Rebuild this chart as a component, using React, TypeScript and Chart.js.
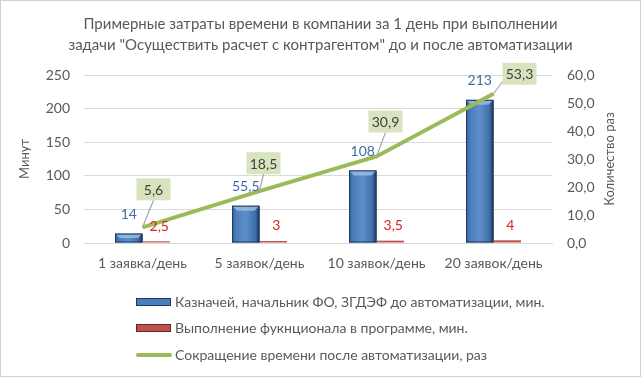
import React, { useEffect, useRef } from "react";
import Chart from "chart.js/auto";

const categories = ["1 заявка/день", "5 заявок/день", "10 заявок/день", "20 заявок/день"];
const beforeMinutes = [14, 55.5, 108, 213];
const afterMinutes = [2.5, 3, 3.5, 4];
const reductionTimes = [5.6, 18.5, 30.9, 53.3];
const beforeLabels = ["14", "55,5", "108", "213"];
const afterLabels = ["2,5", "3", "3,5", "4"];
const reductionLabels = ["5,6", "18,5", "30,9", "53,3"];
const leftTicksMax = 250;
const rightTicksMax = 60;
const titleLines = [
  "Примерные затраты времени в компании за 1 день при выполнении",
  "задачи \"Осуществить расчет с контрагентом\" до и после автоматизации",
];
const seriesNames = [
  "Казначей, начальник ФО, ЗГДЭФ до автоматизации, мин.",
  "Выполнение фукнционала в программе, мин.",
  "Сокращение времени после автоматизации, раз",
];
const leftAxisTitle = "Минут";
const rightAxisTitle = "Количество раз";

// label callout offsets (style)
const calloutOffsets = [
  [11, -38],
  [4, -28],
  [9, -35],
  [26, -20],
];

const FONT = "Lato, 'Open Sans', sans-serif";
const TEXT = "#595959";
const BLUE = "#4A7EBB";
const RED = "#C0504D";
const GREEN = "#9BBB59";

const bevelPlugin = {
  id: "bevelBars",
  afterDatasetDraw(chart: any, args: any) {
    if (args.index !== 0) return;
    const ctx = chart.ctx;
    ctx.save();
    args.meta.data.forEach((b: any) => {
      const l = b.x - b.width / 2;
      const r = b.x + b.width / 2;
      const t = b.y;
      const bot = b.base;
      const g = ctx.createLinearGradient(l, 0, r, 0);
      g.addColorStop(0, "#345F93");
      g.addColorStop(0.15, "#4A7EBB");
      g.addColorStop(0.5, "#5D8FCB");
      g.addColorStop(0.85, "#3F6FA8");
      g.addColorStop(1, "#1B3454");
      ctx.fillStyle = g;
      ctx.fillRect(l, t, r - l, bot - t);
      // top bevel
      const bev = Math.min(5, (bot - t) / 2);
      ctx.fillStyle = "rgba(160,195,235,0.75)";
      ctx.beginPath();
      ctx.moveTo(l, t);
      ctx.lineTo(r, t);
      ctx.lineTo(r - bev, t + bev);
      ctx.lineTo(l + bev, t + bev);
      ctx.closePath();
      ctx.fill();
      ctx.strokeStyle = "#1F3A60";
      ctx.lineWidth = 1;
      ctx.strokeRect(l + 0.5, t + 0.5, r - l - 1, bot - t - 1);
    });
    ctx.restore();
  },
};

const labelsPlugin = {
  id: "customLabels",
  afterDatasetsDraw(chart: any) {
    const ctx = chart.ctx;
    ctx.save();
    ctx.textAlign = "center";
    ctx.textBaseline = "middle";
    ctx.font = `14px ${FONT}`;
    const m0 = chart.getDatasetMeta(0);
    const m1 = chart.getDatasetMeta(1);
    const m2 = chart.getDatasetMeta(2);
    m0.data.forEach((b: any, i: number) => {
      ctx.fillStyle = "#3F6BAA";
      ctx.fillText(beforeLabels[i], b.x, b.y - 19);
    });
    m1.data.forEach((b: any, i: number) => {
      ctx.fillStyle = "#E0201E";
      ctx.fillText(afterLabels[i], b.x + 3, b.y - 15);
    });
    m2.data.forEach((p: any, i: number) => {
      const [dx, dy] = calloutOffsets[i];
      const cx = p.x + dx;
      const cy = p.y + dy;
      const w = 34;
      const h = 22;
      let ex = cx;
      let ey = cy + h / 2;
      if (Math.abs(dx) > 15) {
        ex = cx - w / 2;
        ey = cy + h / 2 - 3;
      }
      ctx.strokeStyle = "#A6A6A6";
      ctx.lineWidth = 1.2;
      ctx.beginPath();
      ctx.moveTo(p.x, p.y);
      ctx.lineTo(ex, ey);
      ctx.stroke();
      ctx.fillStyle = "#D7E4BD";
      ctx.fillRect(cx - w / 2, cy - h / 2, w, h);
      ctx.fillStyle = "#404040";
      ctx.fillText(reductionLabels[i], cx, cy + 1);
    });
    ctx.restore();
  },
};

const legendFramePlugin = {
  id: "legendFrame",
  afterDraw(chart: any) {
    const ctx = chart.ctx;
    ctx.save();
    const ca = chart.chartArea;
    ctx.save();
    ctx.translate(610, (ca.top + ca.bottom) / 2);
    ctx.rotate(-Math.PI / 2);
    ctx.font = `13px ${FONT}`;
    ctx.fillStyle = TEXT;
    ctx.textAlign = "center";
    ctx.textBaseline = "middle";
    ctx.fillText(rightAxisTitle, 0, 0);
    ctx.restore();

    const rows = [302, 328, 355];
    const x0 = 136;
    ctx.font = `14px ${FONT}`;
    ctx.textBaseline = "middle";
    ctx.textAlign = "left";
    rows.forEach((y, i) => {
      if (i < 2) {
        const col = i === 0 ? BLUE : RED;
        const dark = i === 0 ? "#1F3A60" : "#632523";
        ctx.fillStyle = col;
        ctx.fillRect(x0, y - 4, 35, 8);
        ctx.strokeStyle = dark;
        ctx.lineWidth = 1;
        ctx.strokeRect(x0 + 0.5, y - 3.5, 34, 7);
      } else {
        ctx.strokeStyle = GREEN;
        ctx.lineWidth = 4;
        ctx.lineCap = "round";
        ctx.beginPath();
        ctx.moveTo(x0 + 2, y);
        ctx.lineTo(x0 + 34, y);
        ctx.stroke();
      }
      ctx.fillStyle = TEXT;
      ctx.fillText(seriesNames[i], x0 + 39, y);
    });
    ctx.strokeStyle = "#D0D0D0";
    ctx.lineWidth = 1;
    ctx.strokeRect(0.5, 0.5, chart.width - 1, chart.height - 1);
    ctx.restore();
  },
};

export default function App() {
  const ref = useRef<HTMLCanvasElement>(null);
  useEffect(() => {
    document.body.style.margin = "0";
    const chart = new Chart(ref.current as HTMLCanvasElement, {
      type: "bar",
      data: {
        labels: categories,
        datasets: [
          {
            type: "bar",
            label: seriesNames[0],
            data: beforeMinutes,
            backgroundColor: BLUE,
            borderColor: "#1F3A60",
            borderWidth: 1,
            yAxisID: "y",
            categoryPercentage: 0.47,
            barPercentage: 1,
            order: 2,
          },
          {
            type: "bar",
            label: seriesNames[1],
            data: afterMinutes,
            backgroundColor: RED,
            borderWidth: 0,
            yAxisID: "y",
            categoryPercentage: 0.47,
            barPercentage: 1,
            order: 2,
          },
          {
            type: "line",
            label: seriesNames[2],
            data: reductionTimes,
            borderColor: GREEN,
            backgroundColor: GREEN,
            borderWidth: 4,
            pointRadius: 0,
            yAxisID: "y1",
            order: 1,
          },
        ],
      },
      options: {
        animation: false,
        responsive: false,
        layout: { padding: { left: 0, right: 0, top: 0, bottom: 100 } },
        plugins: {
          legend: { display: false },
          tooltip: { enabled: false },
          title: {
            display: true,
            text: titleLines,
            color: TEXT,
            font: { family: FONT, size: 15, weight: "normal" as any, lineHeight: 1.4 },
            padding: { top: 14, bottom: 19 },
          },
        },
        scales: {
          x: {
            grid: { display: false },
            border: { display: true, color: "#D9D9D9" },
            ticks: { color: TEXT, font: { family: FONT, size: 14 }, padding: 4, maxRotation: 0 },
            afterFit: (s: any) => {
              s.height = 34;
            },
          },
          y: {
            position: "left",
            min: 0,
            max: leftTicksMax,
            ticks: { stepSize: 50, color: TEXT, font: { family: FONT, size: 14 }, padding: 14 },
            grid: { color: "#D9D9D9", drawTicks: false },
            border: { display: false },
            title: { display: true, text: leftAxisTitle, color: TEXT, font: { family: FONT, size: 13 }, padding: { top: 17, bottom: 4 } },
            afterFit: (s: any) => {
              s.width = 84;
            },
          },
          y1: {
            position: "right",
            min: 0,
            max: rightTicksMax,
            ticks: {
              stepSize: 10,
              color: TEXT,
              font: { family: FONT, size: 14 },
              padding: 15,
              callback: (v: any) => Number(v).toFixed(1).replace(".", ","),
            },
            grid: { display: false, drawTicks: false },
            border: { display: false },
            afterFit: (s: any) => {
              s.width = 89;
            },
          },
        },
      },
      plugins: [bevelPlugin, labelsPlugin, legendFramePlugin],
    } as any);
    return () => chart.destroy();
  }, []);
  return <canvas ref={ref} width={641} height={377} style={{ display: "block" }} />;
}
